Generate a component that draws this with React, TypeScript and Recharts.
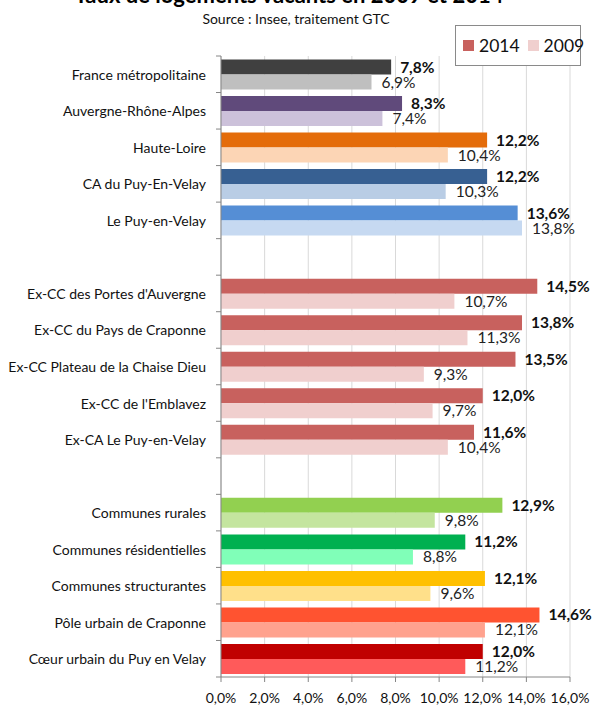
import React from 'react';
import { Bar, BarChart, CartesianGrid, Cell, LabelList, XAxis, YAxis } from 'recharts';

const categories = [
  'France métropolitaine',
  'Auvergne-Rhône-Alpes',
  'Haute-Loire',
  'CA du Puy-En-Velay',
  'Le Puy-en-Velay',
  ' ',
  "Ex-CC des Portes d'Auvergne",
  'Ex-CC du Pays de Craponne',
  'Ex-CC Plateau de la Chaise Dieu',
  "Ex-CC de l'Emblavez",
  'Ex-CA Le Puy-en-Velay',
  '  ',
  'Communes rurales',
  'Communes résidentielles',
  'Communes structurantes',
  'Pôle urbain de Craponne',
  'Cœur urbain du Puy en Velay',
];

const values2014 = [7.8, 8.3, 12.2, 12.2, 13.6, null, 14.5, 13.8, 13.5, 12.0, 11.6, null, 12.9, 11.2, 12.1, 14.6, 12.0];
const values2009 = [6.9, 7.4, 10.4, 10.3, 13.8, null, 10.7, 11.3, 9.3, 9.7, 10.4, null, 9.8, 8.8, 9.6, 12.1, 11.2];

const colors2014 = [
  '#404040', '#604A7B', '#E46C0A', '#376092', '#558ED5', '#FFFFFF',
  '#C8615E', '#C8615E', '#C8615E', '#C8615E', '#C8615E', '#FFFFFF',
  '#92D050', '#00B050', '#FFC000', '#FF5330', '#C00000',
];
const colors2009 = [
  '#BFBFBF', '#CCC1DA', '#FCD5B5', '#B9CDE5', '#C6D9F1', '#FFFFFF',
  '#F0CFCE', '#F0CFCE', '#F0CFCE', '#F0CFCE', '#F0CFCE', '#FFFFFF',
  '#C4E59F', '#80FFB8', '#FFE08A', '#FFA28E', '#FF5A5A',
];

const seriesNames = ['2014', '2009'];
const legendColors = ['#C8615E', '#F0CFCE'];

const xTicks = [0, 2, 4, 6, 8, 10, 12, 14, 16];

const data = categories.map((name, i) => ({ name, v2014: values2014[i], v2009: values2009[i] }));

const WIDTH = 592;
const HEIGHT = 708;
const MARGIN = { top: 56, right: 22, bottom: 0, left: 0 };
const X_AXIS_HEIGHT = 31;
const Y_AXIS_WIDTH = 221;
const PLOT_H = HEIGHT - MARGIN.top - MARGIN.bottom - X_AXIS_HEIGHT;
const FONT = "Lato, 'Open Sans', sans-serif";
const AXIS_COLOR = '#868686';

const fmt = (v: number | null) => (v == null ? '' : `${v.toFixed(1).replace('.', ',')}%`);

const CategoryTick = (props: any) => {
  const { y, payload, index } = props;
  const band = PLOT_H / categories.length;
  const top = y - band / 2;
  return (
    <g>
      <line x1={Y_AXIS_WIDTH - 5} x2={Y_AXIS_WIDTH} y1={top} y2={top} stroke={AXIS_COLOR} />
      {index === categories.length - 1 && (
        <line x1={Y_AXIS_WIDTH - 5} x2={Y_AXIS_WIDTH} y1={y + band / 2} y2={y + band / 2} stroke={AXIS_COLOR} />
      )}
      <text x={Y_AXIS_WIDTH - 15} y={y} textAnchor="end" dominantBaseline="central" fontSize={14} fill="#111" fontFamily={FONT}>
        {payload.value.trim()}
      </text>
    </g>
  );
};

const LegendBox: React.FC = () => (
  <div
    style={{
      position: 'absolute',
      left: 455,
      top: 25,
      width: 126,
      height: 41,
      border: '1px solid #8a8a8a',
      background: '#fff',
      boxSizing: 'border-box',
      display: 'flex',
      alignItems: 'center',
      paddingLeft: 7,
      fontFamily: FONT,
      fontSize: 17.5,
      color: '#111',
    }}
  >
    {seriesNames.map((name, i) => (
      <span key={name} style={{ display: 'flex', alignItems: 'center', marginRight: 8 }}>
        <span style={{ display: 'inline-block', width: 11, height: 11, background: legendColors[i], marginRight: 5 }} />
        {name}
      </span>
    ))}
  </div>
);

const App: React.FC = () => {
  return (
    <div style={{ position: 'absolute', left: 0, top: 0, width: WIDTH, height: HEIGHT, background: '#fff' }}>
      <BarChart
        width={WIDTH}
        height={HEIGHT}
        data={data}
        layout="vertical"
        margin={MARGIN}
        barCategoryGap={3.5}
        barGap={0}
      >
        <CartesianGrid horizontal={false} stroke="#D9D9D9" />
        <XAxis
          type="number"
          domain={[0, 16]}
          ticks={xTicks}
          interval={0}
          height={X_AXIS_HEIGHT}
          tickFormatter={(v: number) => fmt(v)}
          stroke={AXIS_COLOR}
          tickSize={5}
          tickMargin={11}
          tick={{ fill: '#111', fontSize: 14, fontFamily: FONT }}
        />
        <YAxis
          type="category"
          dataKey="name"
          width={Y_AXIS_WIDTH}
          interval={0}
          stroke={AXIS_COLOR}
          tickLine={false}
          tick={<CategoryTick />}
        />
        <Bar dataKey="v2014" name={seriesNames[0]} fill={legendColors[0]} isAnimationActive={false}>
          {data.map((d, i) => (
            <Cell key={`a-${i}`} fill={colors2014[i]} />
          ))}
          <LabelList
            dataKey="v2014"
            position="right"
            offset={9}
            formatter={(v: any) => fmt(v)}
            style={{ fontFamily: FONT, fontSize: 15.5, fontWeight: 700, fill: '#111' }}
          />
        </Bar>
        <Bar dataKey="v2009" name={seriesNames[1]} fill={legendColors[1]} isAnimationActive={false}>
          {data.map((d, i) => (
            <Cell key={`b-${i}`} fill={colors2009[i]} />
          ))}
          <LabelList
            dataKey="v2009"
            position="right"
            offset={10}
            formatter={(v: any) => fmt(v)}
            style={{ fontFamily: FONT, fontSize: 15.5, fill: '#222' }}
          />
        </Bar>
      </BarChart>
      <LegendBox />
      <svg width={WIDTH} height={HEIGHT} style={{ position: 'absolute', left: 0, top: 0, pointerEvents: 'none' }}>
        <text x={289} y={3} textAnchor="middle" fontSize={22} fontWeight={700} fontFamily={FONT} fill="#000">
          Taux de logements vacants en 2009 et 2014
        </text>
        <text x={296} y={24} textAnchor="middle" fontSize={14} fontFamily={FONT} fill="#111">
          Source : Insee, traitement GTC
        </text>
      </svg>
    </div>
  );
};

export default App;
